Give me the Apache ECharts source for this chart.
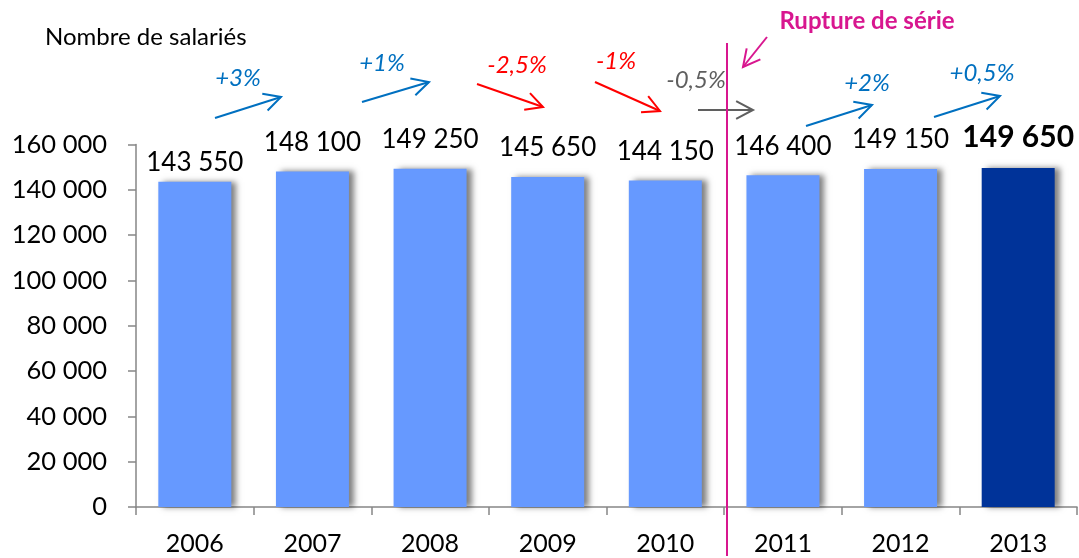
<!DOCTYPE html>
<html>
<head>
<meta charset="utf-8">
<script src="https://cdn.jsdelivr.net/npm/echarts@6/dist/echarts.min.js"></script>
<style>
html, body { margin: 0; padding: 0; background: #fff; }
#chart { width: 1079px; height: 558px; }
</style>
</head>
<body>
<div id="chart"></div>
<script>
// données
const years = ['2006', '2007', '2008', '2009', '2010', '2011', '2012', '2013']
const salaries = [143550, 148100, 149250, 145650, 144150, 146400, 149150, 149650]
const yTicks = [0, 20000, 40000, 60000, 80000, 100000, 120000, 140000, 160000]
const changes = ['+3%', '+1%', '-2,5%', '-1%', '-0,5%', '+2%', '+0,5%']

const FONT = 'Lato, "Open Sans", sans-serif'
const BLUE = '#0070c0'
const RED = '#ff0000'
const GREY = '#5f5f5f'
const MAGENTA = '#d8168f'

const fmt = (v) => String(v).replace(/\B(?=(\d{3})+(?!\d))/g, ' ')

// flèche : trait + pointe ouverte
const arrow = (x1, y1, x2, y2, color) => {
    const a = Math.atan2(y2 - y1, x2 - x1)
    const len = 19
    const spread = 0.48
    const p1 = [x2 - len * Math.cos(a - spread), y2 - len * Math.sin(a - spread)]
    const p2 = [x2 - len * Math.cos(a + spread), y2 - len * Math.sin(a + spread)]
    return [
        { type: 'line', shape: { x1, y1, x2, y2 }, style: { stroke: color, lineWidth: 2 } },
        { type: 'polyline', shape: { points: [p1, [x2, y2], p2] }, style: { stroke: color, lineWidth: 2, fill: null } },
    ]
}

const pctText = (text, x, y, color) => ({
    type: 'text', x, y,
    style: { text, fill: color, fontFamily: FONT, fontSize: 24, fontStyle: 'italic', align: 'center', verticalAlign: 'middle' },
})

// position des annotations (flèche + texte)
const notes = [
    { a: [215, 118, 281, 97], t: [238, 78], c: BLUE },
    { a: [362, 102, 429, 82], t: [382, 63], c: BLUE },
    { a: [477, 84, 543, 107], t: [517, 65], c: RED },
    { a: [595, 82, 660, 111], t: [616, 61], c: RED },
    { a: [698, 110, 753, 110], t: [696, 80], c: GREY },
    { a: [806, 126, 872, 105], t: [867, 83], c: BLUE },
    { a: [934, 117, 1000, 96], t: [982, 73], c: BLUE },
]

const graphics = []
notes.forEach((n, i) => {
    graphics.push(...arrow(...n.a, n.c))
    graphics.push(pctText(changes[i], n.t[0], n.t[1], n.c))
})
// rupture de série
graphics.push({ type: 'line', shape: { x1: 727, y1: 43, x2: 727, y2: 556 }, style: { stroke: MAGENTA, lineWidth: 2 }, z: 10 })
graphics.push(...arrow(767, 37, 743, 67, MAGENTA))
graphics.push({
    type: 'text', x: 867, y: 21,
    style: { text: 'Rupture de série', fill: MAGENTA, fontFamily: FONT, fontSize: 24, fontWeight: 'bold', align: 'center', verticalAlign: 'middle' },
})
graphics.push({
    type: 'text', x: 45, y: 37,
    style: { text: 'Nombre de salariés', fill: '#000', fontFamily: FONT, fontSize: 24, align: 'left', verticalAlign: 'middle' },
})

const chart = echarts.init(document.getElementById('chart'))
chart.setOption({
    animation: false,
    textStyle: { fontFamily: FONT },
    grid: { left: 136, right: 2, top: 144.5, bottom: 51 },
    xAxis: {
        type: 'category',
        data: years,
        axisLine: { lineStyle: { color: '#868686', width: 1.5 } },
        axisTick: { show: true, length: 8, lineStyle: { color: '#868686', width: 1.5 } },
        axisLabel: { color: '#000', fontSize: 25, margin: 24, fontFamily: FONT },
    },
    yAxis: {
        type: 'value',
        min: yTicks[0],
        max: yTicks[yTicks.length - 1],
        interval: yTicks[1] - yTicks[0],
        splitLine: { show: false },
        axisLine: { show: true, lineStyle: { color: '#868686', width: 1.5 } },
        axisTick: { show: true, length: 8, lineStyle: { color: '#868686', width: 1.5 } },
        axisLabel: { color: '#000', fontSize: 25.5, margin: 29, fontFamily: FONT, formatter: fmt },
    },
    series: [
        {
            type: 'bar',
            barWidth: 73,
            data: salaries.map((v, i) => {
                const last = i === salaries.length - 1
                return {
                    value: v,
                    itemStyle: { color: last ? '#003399' : '#6699ff' },
                    label: {
                        show: true,
                        position: 'top',
                        distance: i === 0 ? 6 : 16,
                        formatter: fmt(v),
                        color: '#000',
                        fontFamily: FONT,
                        fontSize: last ? 30 : 26,
                        fontWeight: last ? 'bold' : 'normal',
                    },
                }
            }),
            itemStyle: {
                shadowColor: 'rgba(0, 0, 0, 0.5)',
                shadowBlur: 6,
                shadowOffsetX: 5,
                shadowOffsetY: 0,
            },
        },
    ],
    graphic: graphics,
})
</script>
</body>
</html>
